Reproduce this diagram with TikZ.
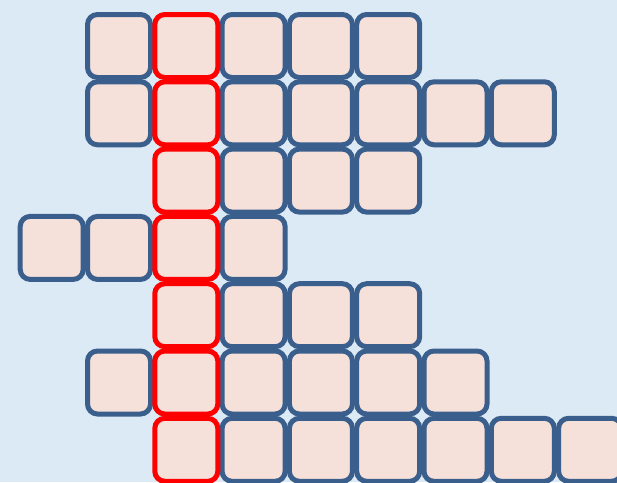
\documentclass[tikz,border=0pt]{standalone}
\definecolor{bgblue}{HTML}{DCEAF6}
\definecolor{boxfill}{HTML}{F6E0DA}
\definecolor{boxblue}{HTML}{3B5F8C}
\definecolor{boxred}{HTML}{FF0000}
\tikzset{
  cell/.style={draw=boxblue, fill=boxfill, line width=5pt, rounded corners=10pt,
    minimum width=63pt, minimum height=63pt, inner sep=0pt, outer sep=0pt},
  redcell/.style={cell, draw=boxred}
}
\begin{document}
\begin{tikzpicture}[x=1pt,y=-1pt]
\fill[bgblue] (0,0) rectangle (617,482);
\useasboundingbox (0,0) rectangle (617,482);
\clip (0,0) rectangle (617,482);
% rows: list of blue column indices
\foreach \r/\cols in {0/{1,3,4,5},1/{1,3,4,5,6,7},2/{3,4,5},3/{0,1,3},4/{3,4,5},5/{1,3,4,5,6},6/{3,4,5,6,7,8}}{
  \foreach \c in \cols {
    \node[cell] (b\r-\c) at ({51.7+67.3*\c},{46+67.3*\r}) {};
  }
}
\foreach \r in {0,...,6}{
  \node[redcell] (b\r-2) at ({51.7+67.3*2},{46+67.3*\r}) {};
}
\end{tikzpicture}
\end{document}
